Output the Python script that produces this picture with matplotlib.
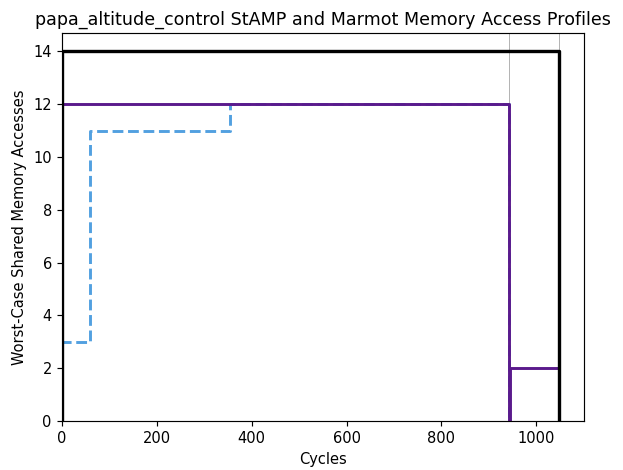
import matplotlib
matplotlib.use("Agg")
import matplotlib.pyplot as plt

# StAMP total bound
black_t = [0, 0, 1048]
black_v = [0, 14, 0]
# Marmot profile (dashed)
blue_t = [0, 0, 59, 355, 943]
blue_v = [0, 3, 11, 12, 0]
# StAMP profile
purple_t = [0, 0, 943, 944, 1048]
purple_v = [0, 12, 0, 2, 0]
# phase boundaries
vlines = [943, 1048]

DPI = 105
W, H = 623, 470
fig, ax = plt.subplots(figsize=(W / DPI, H / DPI), dpi=DPI)
fig.subplots_adjust(left=62 / W, right=584 / W, top=1 - 33 / H, bottom=1 - 421 / H)
for v in vlines:
    ax.axvline(v, color="gray", linewidth=0.5, alpha=0.8)
ax.step(blue_t, blue_v, where="post", color="#52a0e0", linewidth=2, linestyle="--")
ax.step(purple_t, purple_v, where="post", color="#5a1a8c", linewidth=2)
ax.step(black_t, black_v, where="post", color="black", linewidth=2.3)

ax.set_xlim(0, 1048 * 1.05)
ax.set_ylim(0, 14 * 1.05)
ax.set_xlabel("Cycles")
ax.set_ylabel("Worst-Case Shared Memory Accesses")
ax.set_title("papa_altitude_control StAMP and Marmot Memory Access Profiles")
fig.savefig("out.png", dpi=DPI)
